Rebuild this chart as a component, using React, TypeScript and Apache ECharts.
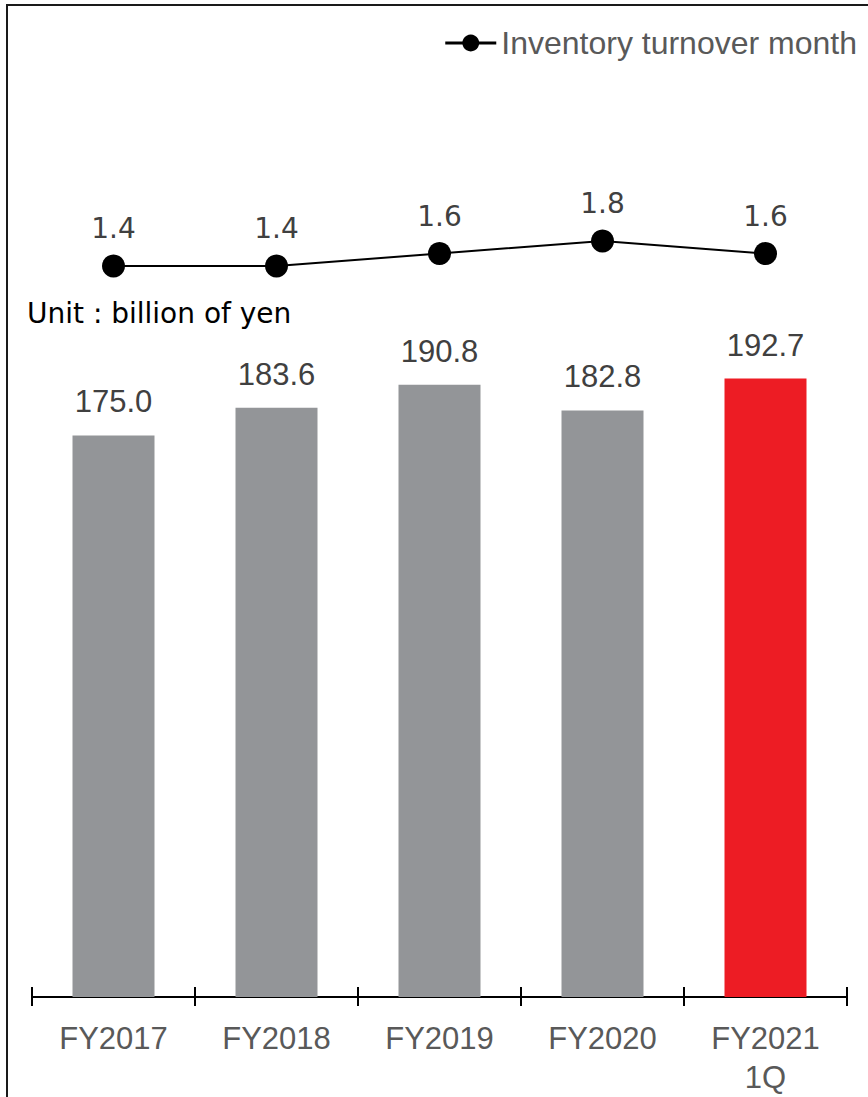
import React, { useEffect, useRef } from "react";
import * as echarts from "echarts";

const categories = ["FY2017", "FY2018", "FY2019", "FY2020", "FY2021\n1Q"];
const inventoryValues = [175.0, 183.6, 190.8, 182.8, 192.7];
const turnoverMonths = [1.4, 1.4, 1.6, 1.8, 1.6];
const lineSeriesName = "Inventory turnover month";
const unitText = "Unit : billion of yen";

const GRAY = "#939598";
const RED = "#ED1C24";

export default function App() {
  const ref = useRef<HTMLDivElement>(null);
  useEffect(() => {
    if (!ref.current) return;
    const chart = echarts.init(ref.current, null, { renderer: "svg" });
    const last = inventoryValues.length - 1;
    chart.setOption({
      animation: false,
      backgroundColor: "#ffffff",
      textStyle: { fontFamily: "Liberation Sans, Arial, sans-serif" },
      legend: {
        right: 6,
        top: 22,
        itemWidth: 51,
        itemHeight: 21,
        lineStyle: { width: 3 },
        textStyle: { fontSize: 32, color: "#595959", fontFamily: "Liberation Sans" },
        data: [lineSeriesName],
      },
      grid: [
        { left: 32, right: 21, top: 291, bottom: 97 },
        { left: 32, right: 21, top: 216, height: 100 },
      ],
      xAxis: [
        {
          type: "category",
          gridIndex: 0,
          data: categories,
          position: "bottom",
          axisLine: { lineStyle: { color: "#000", width: 2 } },
          axisTick: { show: true, length: 9, lineStyle: { color: "#000", width: 2 } },
          axisLabel: {
            fontSize: 31,
            color: "#595959",
            margin: 22,
            lineHeight: 39,
            fontFamily: "Liberation Sans",
            interval: 0,
          },
        },
        {
          type: "category",
          gridIndex: 0,
          data: categories,
          position: "bottom",
          axisLine: { show: false },
          axisTick: { show: true, inside: true, length: 10, lineStyle: { color: "#000", width: 2 } },
          axisLabel: { show: false },
        },
        {
          type: "category",
          gridIndex: 1,
          data: categories,
          show: false,
        },
      ],
      yAxis: [
        { type: "value", gridIndex: 0, min: 0, max: 220, show: false, splitLine: { show: false } },
        { type: "value", gridIndex: 1, min: 0.6, max: 2.2, show: false, splitLine: { show: false } },
      ],
      series: [
        {
          type: "bar",
          xAxisIndex: 0,
          yAxisIndex: 0,
          barWidth: 82,
          data: inventoryValues.map((v, i) => ({
            value: v,
            itemStyle: { color: i === last ? RED : GRAY },
          })),
          label: {
            show: true,
            position: "top",
            distance: 18,
            fontSize: 31,
            color: "#404040",
            fontFamily: "Liberation Sans",
            formatter: (p: any) => Number(p.value).toFixed(1),
          },
        },
        {
          name: lineSeriesName,
          type: "line",
          xAxisIndex: 2,
          yAxisIndex: 1,
          data: turnoverMonths,
          symbol: "circle",
          symbolSize: 23,
          itemStyle: { color: "#000" },
          lineStyle: { color: "#000", width: 2 },
          label: {
            show: true,
            position: "top",
            distance: 12,
            fontSize: 28,
            color: "#404040",
            fontFamily: "DejaVu Sans",
            formatter: (p: any) => Number(p.value).toFixed(1),
          },
        },
      ],
      graphic: [
        {
          type: "polyline",
          shape: { points: [[7, 1097], [7, 5], [868, 5]] },
          style: { stroke: "#1a1a1a", lineWidth: 2, fill: null },
          silent: true,
        },
        {
          type: "text",
          left: 27,
          top: 299,
          style: {
            text: unitText,
            fontSize: 28,
            fill: "#000",
            fontFamily: "DejaVu Sans",
          },
        },
      ],
    });
    return () => chart.dispose();
  }, []);
  return (
    <div
      ref={ref}
      style={{ position: "fixed", left: 0, top: 0, width: 868, height: 1097 }}
    />
  );
}
